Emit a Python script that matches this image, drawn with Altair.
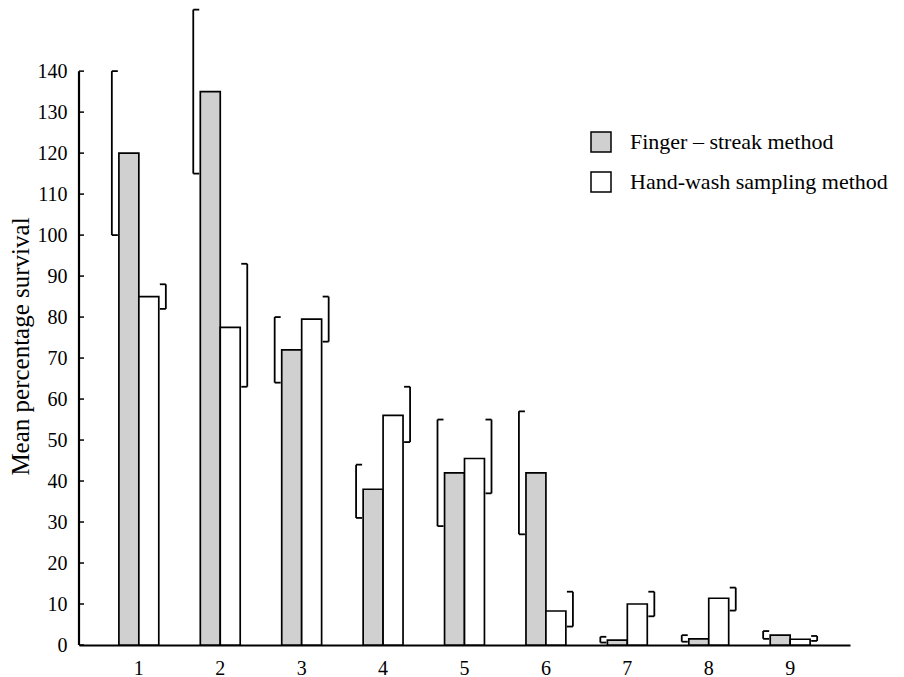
import altair as alt
import pandas as pd

groups = ["1", "2", "3", "4", "5", "6", "7", "8", "9"]
methods = ["Finger – streak method", "Hand-wash sampling method"]

finger = [120, 135, 72, 38, 42, 42, 1.2, 1.5, 2.4]
finger_lo = [100, 115, 64, 31, 29, 27, 0.6, 0.8, 1.5]
finger_hi = [140, 155, 80, 44, 55, 57, 2.0, 2.4, 3.4]

hand = [85, 77.5, 79.5, 56, 45.5, 8.3, 10, 11.4, 1.4]
hand_lo = [82, 63, 74, 49.5, 37, 4.5, 7, 8.4, 1.0]
hand_hi = [88, 93, 85, 63, 55, 13, 13, 14, 2.2]

y_ticks = list(range(0, 150, 10))
y_axis_span = [0, 140]

rows = []
for i, g in enumerate(groups):
    rows.append(dict(group=g, method=methods[0], value=finger[i], lo=finger_lo[i], hi=finger_hi[i]))
    rows.append(dict(group=g, method=methods[1], value=hand[i], lo=hand_lo[i], hi=hand_hi[i]))
df = pd.DataFrame(rows)
fdf = df[df["method"] == methods[0]]
hdf = df[df["method"] == methods[1]]

FONT = "Liberation Serif"
W, H = 771, 637

y_scale = alt.Scale(domain=[0, 155.4], nice=False, zero=True)
y_axis = alt.Axis(
    values=y_ticks, domain=False, ticks=False, tickSize=0, grid=False,
    title="Mean percentage survival", titleFont=FONT, titleFontSize=25,
    titleFontWeight="normal", titleColor="black", titlePadding=4, titleY=338,
    labelFont=FONT, labelFontSize=20, labelColor="black", labelPadding=12,
)
x_enc = alt.X(
    "group:N", sort=groups,
    scale=alt.Scale(domain=groups, paddingInner=0.51, paddingOuter=0.49),
    axis=alt.Axis(
        title=None, labelAngle=0, ticks=False, tickSize=0, domain=True,
        domainWidth=2, domainColor="black", labelFont=FONT, labelFontSize=20,
        labelColor="black", labelPadding=13, grid=False,
    ),
)


def Y(field):
    return alt.Y(field, scale=y_scale, axis=y_axis)


bars = alt.Chart(df).mark_bar(stroke="black", strokeWidth=1.7).encode(
    x=x_enc,
    xOffset=alt.XOffset("method:N", sort=methods,
                        scale=alt.Scale(domain=methods, paddingInner=0, paddingOuter=0)),
    y=Y("value:Q"),
    color=alt.Color(
        "method:N", sort=methods,
        scale=alt.Scale(domain=methods, range=["#d0d0d0", "#ffffff"]),
        legend=alt.Legend(
            title=None, orient="none", legendX=511, legendY=123,
            symbolType="square", symbolSize=400, symbolStrokeColor="black",
            symbolStrokeWidth=1.5, symbolOpacity=1,
            labelFont=FONT, labelFontSize=22, labelColor="black",
            labelOffset=18, rowPadding=14, padding=0, labelLimit=500,
        ),
    ),
)

SW = 1.8
f_vert = alt.Chart(fdf).mark_rule(xOffset=-27, strokeWidth=SW, color="black").encode(
    x=x_enc, y=Y("lo:Q"), y2="hi:Q")
f_top = alt.Chart(fdf).mark_tick(xOffset=-24, size=6, thickness=SW, orient="horizontal",
                                 color="black", opacity=1).encode(x=x_enc, y=Y("hi:Q"))
f_bot = alt.Chart(fdf).mark_tick(xOffset=-24, size=6, thickness=SW, orient="horizontal",
                                 color="black", opacity=1).encode(x=x_enc, y=Y("lo:Q"))

h_vert = alt.Chart(hdf).mark_rule(xOffset=27, strokeWidth=SW, color="black").encode(
    x=x_enc, y=Y("lo:Q"), y2="hi:Q")
h_top = alt.Chart(hdf).mark_tick(xOffset=24, size=6, thickness=SW, orient="horizontal",
                                 color="black", opacity=1).encode(x=x_enc, y=Y("hi:Q"))
h_bot = alt.Chart(hdf).mark_tick(xOffset=24, size=6, thickness=SW, orient="horizontal",
                                 color="black", opacity=1).encode(x=x_enc, y=Y("lo:Q"))

axis_line = alt.Chart(pd.DataFrame({"a": [y_axis_span[0]], "b": [y_axis_span[1]]})).mark_rule(
    strokeWidth=2.2, color="black").encode(x=alt.value(0), y=Y("a:Q"), y2="b:Q")
axis_ticks = alt.Chart(pd.DataFrame({"t": y_ticks})).mark_rule(
    strokeWidth=1.5, color="black").encode(x=alt.value(0), x2=alt.value(5), y=Y("t:Q"))

chart = alt.layer(
    bars, f_vert, f_top, f_bot, h_vert, h_top, h_bot, axis_line, axis_ticks
).properties(
    width=W, height=H, padding={"left": 0, "top": 0, "right": 0, "bottom": 0},
    background="white",
).configure_view(stroke=None)

chart.save("out.html", embed_options={"renderer": "svg", "actions": False})
